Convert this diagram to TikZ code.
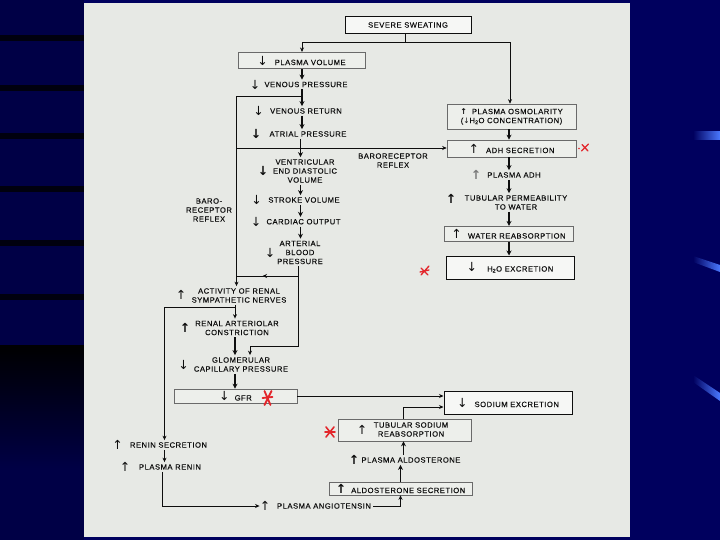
\documentclass[tikz,border=0pt]{standalone}
\usepackage{fontspec}
\setmainfont{Liberation Sans}
\newfontfamily\labfont{Liberation Sans}[LetterSpace=7,FakeBold=0.2]
\newfontfamily\arrfont{DejaVu Sans}
\usetikzlibrary{arrows.meta,calc}

\definecolor{navy}{HTML}{00005E}
\definecolor{navyL}{HTML}{000046}
\definecolor{paper}{HTML}{E7E9E5}
\definecolor{boxfill}{HTML}{EDEFEB}
\definecolor{ink}{HTML}{0E0E0E}
\definecolor{boxline}{HTML}{6A6A6A}
\definecolor{redmark}{HTML}{E3262B}
\definecolor{blueA}{HTML}{4A78FF}

\newcommand\ArDn{{\arrfont\fontsize{12.5}{12.5}\selectfont ↓}}
\newcommand\ArUp{{\arrfont\fontsize{12.5}{12.5}\selectfont ↑}}
\newcommand\ArDnB{{\arrfont\bfseries\fontsize{12.5}{12.5}\selectfont ↓}}
\newcommand\ArUpB{{\arrfont\bfseries\fontsize{12.5}{12.5}\selectfont ↑}}
\newcommand\ArUpS{{\arrfont\bfseries\fontsize{8}{8}\selectfont ↑}}
\newcommand\ArDnS{{\arrfont\fontsize{7.5}{7.5}\selectfont ↓}}

\tikzset{
  lab/.style={font=\labfont\fontsize{7.6}{9}\selectfont, text=ink, align=center, inner sep=2pt},
  glyph/.style={text=ink, inner sep=0pt},
  tbox/.style={lab, draw=boxline, line width=0.6pt, fill=boxfill, inner sep=0pt},
  kbox/.style={lab, draw=ink, line width=1pt, fill=boxfill!50!white, inner sep=0pt},
  link/.style={draw=ink, line width=0.9pt},
  conn/.style={link, -{Stealth[length=4.5pt,width=4pt]}},
  chain/.style={draw=ink, line width=1.7pt, -{Stealth[length=5pt,width=5pt]}},
  redx/.style={draw=redmark, line width=1.3pt, line cap=round},
}

\begin{document}
\begin{tikzpicture}[x=1pt,y=-1pt]
\useasboundingbox (0,0) rectangle (720,540);
% slide background
\fill[navy] (0,0) rectangle (720,540);
\fill[navyL] (0,0) rectangle (84,540);
\foreach \yy in {38,88,136,189,243,297}
  \fill[black,opacity=0.8] (0,\yy-3) rectangle (84,\yy+3);
\shade[top color=black, bottom color=navyL] (0,345) rectangle (84,470);
\shade[left color=navy, right color=blueA] (693,132) rectangle (720,140);
\shade[left color=navy, right color=blueA] (693,256) -- (720,265) -- (720,272) -- (693,262) -- cycle;
\shade[left color=navy, right color=blueA] (693,375) -- (720,393) -- (720,401) -- (693,382) -- cycle;
% page
\fill[paper] (84,3) rectangle (630,537);

% boxes
\node[kbox, minimum width=126pt, minimum height=17pt] (sweat) at (408,25) {SEVERE SWEATING};
\node[tbox, minimum width=127pt, minimum height=16.5pt] (pvol) at (301.5,60.5) {\ArDn\hspace{7pt}PLASMA VOLUME};
\node[tbox, minimum width=129pt, minimum height=25pt] (osm) at (511.5,116.5) {\ArUpS\hspace{5pt}PLASMA OSMOLARITY\\(\ArDnS H\textsubscript{2}O CONCENTRATION)};
\node[tbox, minimum width=129pt, minimum height=17pt] (adh) at (511.5,148.5) {\ArUp\hspace{7pt}ADH SECRETION};
\node[tbox, minimum width=129pt, minimum height=15.5pt] (water) at (508.5,234) {\ArUp\hspace{6pt}WATER REABSORPTION};
\node[kbox, minimum width=128pt, minimum height=23pt] (h2o) at (510,267.5) {\ArDn\hspace{10pt}H\textsubscript{2}O EXCRETION};
\node[tbox, minimum width=123pt, minimum height=14pt] (gfr) at (235.5,396) {\ArDn\hspace{5pt}GFR};
\node[kbox, minimum width=128pt, minimum height=23pt] (sodium) at (508,402.5) {\ArDn\hspace{7pt}SODIUM EXCRETION};
\node[tbox, minimum width=133pt, minimum height=22pt] (tub) at (405,430) {};
\node[lab] (tubT) at (411,429.5) {TUBULAR SODIUM\\REABSORPTION};
\node[glyph] (tubA) at (362,430) {\ArUp};
\node[tbox, minimum width=143pt, minimum height=13pt] (aldsec) at (400.5,488.5) {\ArUpB\hspace{5pt}ALDOSTERONE SECRETION};

% text nodes
\node[lab] (vp) at (306,84.5) {VENOUS PRESSURE};
\node[glyph] (vpA) at (255,85) {\ArDn};
\node[lab] (vr) at (306,111) {VENOUS RETURN};
\node[glyph] (vrA) at (258.5,111) {\ArDn};
\node[lab] (ap) at (308,134) {ATRIAL PRESSURE};
\node[glyph] (apA) at (256,134) {\ArDnB};
\node[lab] (ved) at (305,171) {VENTRICULAR\\END DIASTOLIC\\VOLUME};
\node[glyph] (vedA) at (263,171) {\ArDnB};
\node[lab] (sv) at (304,200) {STROKE VOLUME};
\node[glyph] (svA) at (256.5,200) {\ArDn};
\node[lab] (co) at (303.5,221.7) {CARDIAC OUTPUT};
\node[glyph] (coA) at (256,222) {\ArDn};
\node[lab] (abp) at (300,252.5) {ARTERIAL\\BLOOD\\PRESSURE};
\node[glyph] (abpA) at (270,253) {\ArDn};
\node[lab] (baroL) at (209,210) {BARO-\\RECEPTOR\\REFLEX};
\node[lab] (baroR) at (393,160.5) {BARORECEPTOR\\REFLEX};
\node[lab] (rsn) at (239,295.5) {ACTIVITY OF RENAL\\SYMPATHETIC NERVES};
\node[glyph] (rsnA) at (181,295) {\ArUp};
\node[lab] (rac) at (237,328) {RENAL ARTERIOLAR\\CONSTRICTION};
\node[glyph] (racA) at (185,328) {\ArUpB};
\node[lab] (gcp) at (241,364.5) {GLOMERULAR\\CAPILLARY PRESSURE};
\node[glyph] (gcpA) at (183.5,365) {\ArDn};
\node[lab] (pald) at (411,460) {PLASMA ALDOSTERONE};
\node[glyph] (paldA) at (354,460) {\ArUpB};
\node[lab] (pang) at (324,506) {PLASMA ANGIOTENSIN};
\node[glyph] (pangA) at (265,506) {\ArUp};
\node[lab] (ren) at (168.5,445) {RENIN SECRETION};
\node[glyph] (renA) at (117.5,445) {\ArUp};
\node[lab] (pren) at (170,467) {PLASMA RENIN};
\node[glyph] (prenA) at (125,467) {\ArUp};
\node[lab] (padh) at (514,175) {PLASMA ADH};
\node[glyph, text=ink!55] (padhA) at (476,175) {\ArUpB};
\node[lab] (tpw) at (516,202.5) {TUBULAR PERMEABILITY\\TO WATER};
\node[glyph] (tpwA) at (451,198.5) {\ArUpB};

% coordinates
\coordinate (cL) at (302,0);
\coordinate (cM) at (300.5,0);
\coordinate (jt) at (405.5,42);
\coordinate (cR) at (510,0);
\coordinate (cR2) at (509,0);
\coordinate (bL) at (236.5,0);
\coordinate (b1) at (302,96.5);
\coordinate (b2) at (236.5,148);
\coordinate (a1) at (298.5,276);
\coordinate (a2) at (298.5,346);
\coordinate (a3) at (250,346);
\coordinate (cC) at (235,0);
\coordinate (r1) at (235,307);
\coordinate (r2) at (164.5,307);
\coordinate (t1) at (403.5,407);
\coordinate (cA2) at (400.5,0);
\coordinate (p1) at (162,0);

% connectors
\draw[link] (sweat.south -| jt) -- (jt);
\draw[conn] (jt) -| (pvol.north -| cL);
\draw[conn] (jt) -| (osm.north -| cR);
\draw[chain] (pvol.south -| cL) -- (vp.north -| cL);
\draw[chain] (vp.south -| cL) -- (vr.north -| cL);
\draw[chain] (vr.south -| cL) -- (ap.north -| cL);
\draw[chain] (ap.south -| cM) -- (ved.north -| cM);
\draw[chain] (ved.south -| cM) -- (sv.north -| cM);
\draw[chain] (sv.south -| cM) -- (co.north -| cM);
\draw[chain] (co.south -| cM) -- (abp.north -| cM);
\draw[conn] (b1) -- (b1 -| bL) -- (rsn.north -| bL);
\draw[conn] (b2) -- (b2 -| adh.west);
\draw[conn] (abp.south -| a1) -- (a2) -- (a3) -- (gcp.north -| a3);
\draw[link] (a1) -- (a1 -| bL);
\draw[conn] (a1) -- ($(a1)!0.58!(a1 -| bL)$);
\draw[conn] (rsn.south -| cC) -- (rac.north -| cC);
\draw[conn] (r1) -- (r2) -- (ren.north -| r2);
\draw[chain] (rac.south -| cC) -- (gcp.north -| cC);
\draw[chain] (gcp.south -| cC) -- (gfr.north -| cC);
\draw[conn] (gfr.east) -- (gfr.east -| sodium.west);
\draw[conn] (tub.north -| t1) -- (t1) -- (t1 -| sodium.west);
\draw[chain] (pald.north -| t1) -- (tub.south -| t1);
\draw[chain] (aldsec.north -| cA2) -- (pald.south -| cA2);
\draw[conn] (pang.east) -| (aldsec.south -| cA2);
\draw[conn] (ren.south -| r2) -- (pren.north -| r2);
\draw[conn] (pren.south -| p1) |- (pangA.west);
\draw[chain] (osm.south -| cR2) -- (adh.north -| cR2);
\draw[chain] (adh.south -| cR2) -- (padh.north -| cR2);
\draw[chain] (padh.south -| cR2) -- (tpw.north -| cR2);
\draw[chain] (tpw.south -| cR2) -- (water.north -| cR2);
\draw[chain] (water.south -| cR2) -- (h2o.north -| cR2);

% red hand marks
\begin{scope}[shift={(585,147.5)}]
  \draw[redx] (-3.5,3.5) -- (3.5,-3.5) (-3,-3) -- (3,3.5);
  \fill[redmark] (-6,1) circle (0.9pt);
\end{scope}
\begin{scope}[shift={(425,271)}]
  \draw[redx] (-4,4) -- (4,-5) (-4,-3) -- (3,4) (-5,1) -- (4,-1);
\end{scope}
\begin{scope}[shift={(267.5,398)}]
  \draw[redx, line width=1.8pt] (-3,-7) -- (3,7) (4,-7) -- (-3,7) (-5,0) -- (5,-1);
\end{scope}
\begin{scope}[shift={(330,432)}]
  \draw[redx, line width=1.6pt] (-4,-5) -- (4,5) (4,-5) -- (-4,5) (-5,0) -- (5,0);
\end{scope}
\end{tikzpicture}
\end{document}
